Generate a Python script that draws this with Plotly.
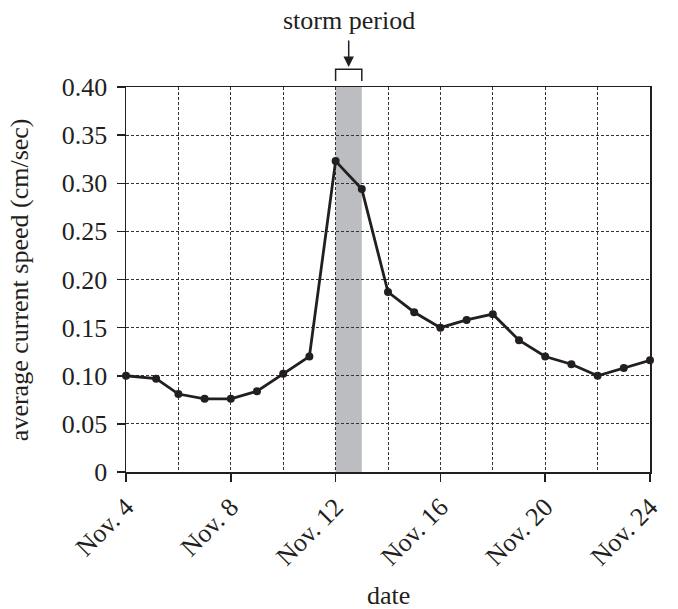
import plotly.graph_objects as go

# Data (day of November, average current speed in cm/sec)
days = [4, 5.15, 6, 7, 8, 9, 10, 11, 12, 13, 14, 15, 16, 17, 18, 19, 20, 21, 22, 23, 24]
speed = [0.100, 0.097, 0.081, 0.076, 0.076, 0.084, 0.102, 0.120, 0.323, 0.294, 0.187,
         0.166, 0.150, 0.158, 0.164, 0.137, 0.120, 0.112, 0.100, 0.108, 0.116]

x_tickvals = [4, 8, 12, 16, 20, 24]
x_ticktext = ["Nov. 4", "Nov. 8", "Nov. 12", "Nov. 16", "Nov. 20", "Nov. 24"]
x_minor_grid = [6, 10, 14, 18, 22]
y_tickvals = [0, 0.05, 0.10, 0.15, 0.20, 0.25, 0.30, 0.35, 0.40]
y_ticktext = ["0", "0.05", "0.10", "0.15", "0.20", "0.25", "0.30", "0.35", "0.40"]

storm_start, storm_end = 12, 13

FONT = "Liberation Serif, Times New Roman, serif"
INK = "#231f20"
FS = 26

fig = go.Figure()
fig.add_trace(go.Scatter(
    x=days, y=speed, mode="lines+markers",
    line=dict(color=INK, width=2.8),
    marker=dict(color=INK, size=8),
    showlegend=False, cliponaxis=False,
))

# storm shading
fig.add_shape(type="rect", xref="x", yref="y", x0=storm_start, x1=storm_end, y0=0, y1=0.40,
              fillcolor="#bcbdc0", line=dict(width=0), layer="below")
# bracket above the storm period
fig.add_shape(type="path", xref="x", yref="paper",
              path=f"M {storm_start},1.0156 L {storm_start},1.046 L {storm_end},1.046 L {storm_end},1.0156",
              line=dict(color=INK, width=1.5))

grid = dict(showgrid=True, gridcolor="#333333", gridwidth=1, griddash="3px,2px")

fig.update_xaxes(
    range=[4, 24], tickvals=x_tickvals, ticktext=x_ticktext, tickangle=-45,
    ticks="outside", ticklen=8, tickwidth=1.5, tickcolor=INK,
    showline=True, linecolor=INK, linewidth=1.5, mirror=True,
    minor=dict(tickvals=x_minor_grid, showgrid=True, gridcolor="#333333",
               gridwidth=1, griddash="3px,2px", ticks=""),
    zeroline=False, automargin=False,
    tickfont=dict(family=FONT, size=FS, color=INK),
    **grid,
)
fig.update_yaxes(
    range=[0, 0.40], tickvals=y_tickvals, ticktext=y_ticktext,
    ticks="outside", ticklen=8, tickwidth=1.5, tickcolor=INK,
    showline=True, linecolor=INK, linewidth=1.5, mirror=True,
    zeroline=False, automargin=False, ticklabelstandoff=4,
    tickfont=dict(family=FONT, size=FS, color=INK),
    **grid,
)

fig.add_annotation(text="storm period", xref="x", yref="paper", x=12.5, y=1.173,
                   showarrow=False, yanchor="middle", font=dict(family=FONT, size=FS, color=INK))
fig.add_annotation(text="", xref="x", yref="paper", x=12.5, y=1.052, ax=0, ay=-28,
                   showarrow=True, arrowhead=2, arrowsize=1.4, arrowwidth=1.5, arrowcolor=INK)
fig.add_annotation(text="average current speed (cm/sec)", xref="paper", yref="paper",
                   x=-0.203, y=0.5, textangle=-90, showarrow=False,
                   xanchor="center", yanchor="middle", font=dict(family=FONT, size=FS, color=INK))
fig.add_annotation(text="date", xref="paper", yref="paper", x=0.5, y=-0.322,
                   showarrow=False, xanchor="center", yanchor="middle",
                   font=dict(family=FONT, size=FS, color=INK))

fig.update_layout(
    width=678, height=609,
    margin=dict(l=126, r=28, t=87, b=137, autoexpand=False),
    paper_bgcolor="white", plot_bgcolor="white",
    font=dict(family=FONT, size=FS, color=INK),
    hovermode=False,
)

fig.write_html("out.html", config={"displayModeBar": False, "staticPlot": True},
               post_script="document.body.style.margin='0';document.body.style.overflow='hidden';")
